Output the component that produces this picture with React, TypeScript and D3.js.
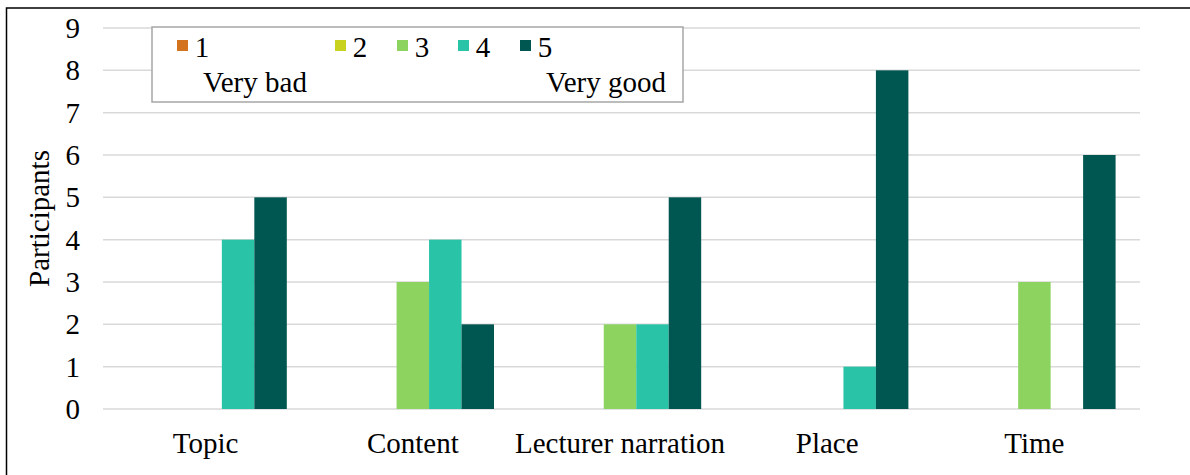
import React, { useEffect, useRef } from 'react';
import * as d3 from 'd3';

const categories = ['Topic', 'Content', 'Lecturer narration', 'Place', 'Time'];
const seriesNames = ['1', '2', '3', '4', '5'];
const seriesColors = ['#D4731F', '#C9D21E', '#8CD35F', '#29C4A7', '#005650'];
// values per series, one entry per category
const s1 = [0, 0, 0, 0, 0];
const s2 = [0, 0, 0, 0, 0];
const s3 = [0, 3, 2, 0, 3];
const s4 = [4, 4, 2, 1, 0];
const s5 = [5, 2, 5, 8, 6];
const yTicks = [0, 1, 2, 3, 4, 5, 6, 7, 8, 9];

const W = 1190;
const H = 475;
const fs = 29;

const App = () => {
  const svgRef = useRef<SVGSVGElement>(null);

  useEffect(() => {
    const series = [s1, s2, s3, s4, s5];
    const left = 103;
    const right = 1140;
    const top = 28;
    const bottom = 409;

    const svg = d3.select(svgRef.current);
    svg.selectAll('*').remove();

    const x0 = d3.scaleBand().domain(categories).range([left - 1, right - 2]).padding(0);
    const x1 = d3
      .scaleBand()
      .domain(seriesNames)
      .range([0, x0.bandwidth()])
      .paddingInner(0)
      .paddingOuter(0.69);
    const y = d3.scaleLinear().domain([0, 9]).range([bottom, top]);

    const label = (x: number, yy: number, s: string, anchor = 'start') =>
      svg
        .append('text')
        .attr('x', x)
        .attr('y', yy)
        .attr('text-anchor', anchor)
        .attr('font-family', 'Liberation Serif')
        .attr('font-size', fs)
        .attr('fill', '#000')
        .text(s);

    svg
      .append('rect')
      .attr('x', 6.5)
      .attr('y', 8)
      .attr('width', W + 10)
      .attr('height', H + 10)
      .attr('fill', '#fff')
      .attr('stroke', '#000')
      .attr('stroke-width', 1.5);

    // grid + tick labels
    yTicks.forEach((t) => {
      svg
        .append('line')
        .attr('x1', left)
        .attr('x2', right)
        .attr('y1', y(t))
        .attr('y2', y(t))
        .attr('stroke', '#d9d9d9')
        .attr('stroke-width', 1.5);
      label(80, y(t) + 10, String(t), 'end');
    });

    // bars
    categories.forEach((c, ci) => {
      const g = svg.append('g').attr('transform', `translate(${x0(c)},0)`);
      series.forEach((s, si) => {
        if (s[ci] <= 0) return;
        g.append('rect')
          .attr('x', x1(seriesNames[si])!)
          .attr('y', y(s[ci]))
          .attr('width', x1.bandwidth())
          .attr('height', y(0) - y(s[ci]))
          .attr('fill', seriesColors[si]);
      });
    });

    categories.forEach((c) => label(x0(c)! + x0.bandwidth() / 2, 453, c, 'middle'));

    label(0, 0, 'Participants', 'middle').attr(
      'transform',
      `translate(49,${(top + bottom) / 2}) rotate(-90)`
    );

    // legend
    svg
      .append('rect')
      .attr('x', 152)
      .attr('y', 27)
      .attr('width', 531)
      .attr('height', 75)
      .attr('fill', '#fff')
      .attr('stroke', '#a6a6a6')
      .attr('stroke-width', 1.5);
    const lx = [177, 335, 397, 458, 520];
    seriesNames.forEach((n, i) => {
      svg
        .append('rect')
        .attr('x', lx[i])
        .attr('y', 40)
        .attr('width', 11)
        .attr('height', 11)
        .attr('fill', seriesColors[i]);
      label(lx[i] + 25, 57, n, 'middle');
    });
    label(203, 92, 'Very bad');
    label(666, 92, 'Very good', 'end');
  }, []);

  return (
    <svg
      ref={svgRef}
      width={W}
      height={H}
      style={{ position: 'absolute', left: 0, top: 0, background: '#fff' }}
    />
  );
};

export default App;
